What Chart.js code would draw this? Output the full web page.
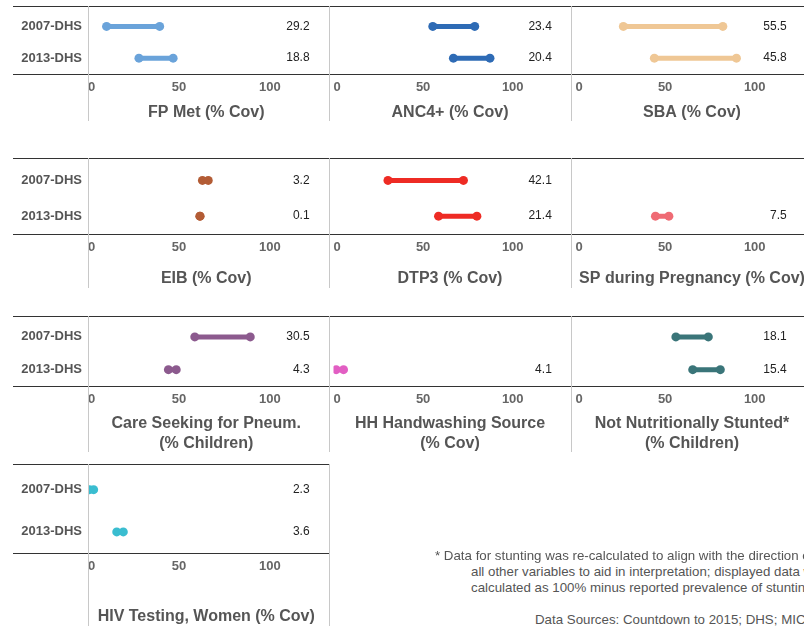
<!DOCTYPE html>
<html>
<head>
<meta charset="utf-8">
<script src="https://cdn.jsdelivr.net/npm/chart.js@4.4.0/dist/chart.umd.min.js"></script>
<style>
html, body { margin: 0; padding: 0; width: 804px; height: 626px; overflow: hidden; background: #fff; font-family: Arial, "Liberation Sans", sans-serif; }
#wrap { position: relative; width: 804px; height: 626px; overflow: hidden; }
canvas { position: absolute; }
.hr { position: absolute; height: 1px; background: #333; }
.vr { position: absolute; width: 1px; background: #c8c8c8; }
.note { position: absolute; font-size: 13.3px; color: #555; white-space: nowrap; line-height: 16px; }
</style>
</head>
<body>
<div id="wrap"></div>
<script>
// rows of every small chart
var rowLabels = ['2007-DHS', '2013-DHS'];

var panelTitles = [
	['FP Met (% Cov)'], ['ANC4+ (% Cov)'], ['SBA (% Cov)'],
	['EIB (% Cov)'], ['DTP3 (% Cov)'], ['SP during Pregnancy (% Cov)'],
	['Care Seeking for Pneum.', '(% Children)'], ['HH Handwashing Source', '(% Cov)'], ['Not Nutritionally Stunted*', '(% Children)'],
	['HIV Testing, Women (% Cov)']
];

// lowest / highest value per survey (null = no data)
var low2007  = [10.2, 55.4, 26.7, 62.9, 30.4, null, 58.7, null, 56.0, 0.8];
var high2007 = [39.4, 78.8, 82.2, 66.1, 72.5, null, 89.2, null, 74.1, 3.1];
var low2013  = [28.0, 66.9, 44.0, 61.5, 58.6, 44.6, 44.2, 1.5, 65.4, 15.8];
var high2013 = [46.8, 87.3, 89.8, 61.6, 80.0, 52.1, 48.5, 5.6, 80.8, 19.4];

// gap shown at the right of each row
var gap2007 = [29.2, 23.4, 55.5, 3.2, 42.1, null, 30.5, null, 18.1, 2.3];
var gap2013 = [18.8, 20.4, 45.8, 0.1, 21.4, 7.5, 4.3, 4.1, 15.4, 3.6];

var xTicks = [0, 50, 100, 130];
var xTickLabels = ['0', '50', '100', ''];

var colors = ['#6aa3da', '#2e6bb5', '#efc795', '#b35c35', '#ee2b24', '#ef6b74', '#8c5a8e', '#e25ec3', '#3a7579', '#3abdd0'];

// layout of the grid
var rows = [
	{ top: 6,   bottom: 74,  end: 123, sepEnd: 121 },
	{ top: 158, bottom: 234, end: 289, sepEnd: 288 },
	{ top: 316, bottom: 386, end: 454, sepEnd: 452 },
	{ top: 464, bottom: 553, end: 627, sepEnd: 626 }
];
var colLeft = [88, 329, 571, 813];
var labelRight = [121.8, 121.8, 117.8];

var wrap = document.getElementById('wrap');

function addDiv(cls, left, top, width, height) {
	var d = document.createElement('div');
	d.className = cls;
	d.style.left = left + 'px';
	d.style.top = top + 'px';
	if (width != null) d.style.width = width + 'px';
	if (height != null) d.style.height = height + 'px';
	wrap.appendChild(d);
	return d;
}

var gapLabels = {
	id: 'gapLabels',
	afterDatasetsDraw: function(chart, args, opts) {
		var ctx = chart.ctx;
		var xs = chart.scales.x, ys = chart.scales.y;
		ctx.save();
		ctx.font = '12px Arial';
		ctx.fillStyle = '#222';
		ctx.textAlign = 'right';
		ctx.textBaseline = 'middle';
		for (var i = 0; i < opts.values.length; i++) {
			if (opts.values[i] == null) continue;
			ctx.fillText(opts.values[i].toFixed(1), xs.getPixelForValue(opts.at), ys.getPixelForValue(i));
		}
		ctx.restore();
	}
};

for (var p = 0; p < panelTitles.length; p++) {
	var r = rows[Math.floor(p / 3)];
	var col = p % 3;
	var first = col === 0;
	var left = first ? 0 : colLeft[col];
	var width = colLeft[col + 1] - left;
	var height = r.end - r.top;
	var axisH = r.end - r.bottom;
	var yW = first ? 88 : 0;

	var cv = document.createElement('canvas');
	cv.width = width;
	cv.height = height;
	cv.style.left = left + 'px';
	cv.style.top = r.top + 'px';
	cv.style.width = width + 'px';
	cv.style.height = height + 'px';
	wrap.appendChild(cv);

	var lows = [low2007[p], low2013[p]];
	var highs = [high2007[p], high2013[p]];
	var datasets = [];
	for (var i = 0; i < 2; i++) {
		if (lows[i] == null) continue;
		datasets.push({
			data: [{ x: lows[i], y: rowLabels[i] }, { x: highs[i], y: rowLabels[i] }],
			borderColor: colors[p],
			backgroundColor: colors[p],
			pointBackgroundColor: colors[p],
			borderWidth: 5,
			pointRadius: 4.5,
			pointHoverRadius: 4.5,
			pointBorderWidth: 0,
			clip: 0
		});
	}

	new Chart(cv, {
		type: 'line',
		data: { labels: rowLabels, datasets: datasets },
		plugins: [gapLabels],
		options: {
			responsive: false,
			animation: false,
			layout: { padding: 0 },
			plugins: {
				legend: { display: false },
				tooltip: { enabled: false },
				gapLabels: { values: [gap2007[p], gap2013[p]], at: labelRight[col] }
			},
			scales: {
				x: {
					type: 'linear',
					min: 0,
					max: 130,
					afterBuildTicks: function(s) { s.ticks = xTicks.map(function(v) { return { value: v }; }); },
					afterFit: (function(h) { return function(s) { s.height = h; s.paddingLeft = 0; s.paddingRight = 0; }; })(axisH),
					grid: { display: false, drawTicks: false },
					border: { display: false },
					ticks: {
						align: 'inner',
						padding: 6,
						color: '#666',
						font: { family: 'Arial', size: 13, weight: 'bold' },
						callback: function(v, idx) { return xTickLabels[idx]; }
					},
					title: {
						display: true,
						text: panelTitles[p],
						color: '#555',
						font: { family: 'Arial', size: 16, weight: 'bold', lineHeight: '20px' },
						padding: { top: 0, bottom: 0 }
					}
				},
				y: {
					type: 'category',
					labels: rowLabels,
					offset: true,
					display: first,
					afterFit: (function(w) { return function(s) { s.width = w; s.paddingTop = 0; s.paddingBottom = 0; }; })(yW),
					grid: { display: false, drawTicks: false },
					border: { display: false },
					ticks: {
						padding: 6,
						color: '#555',
						font: { family: 'Arial', size: 13, weight: 'bold' }
					}
				}
			}
		}
	});
}

// frame lines of the grid
for (var k = 0; k < rows.length; k++) {
	var rr = rows[k];
	var right = k === 3 ? 329 : 804;
	addDiv('hr', 13, rr.top, right - 13, 1);
	addDiv('hr', 13, rr.bottom, right - 13, 1);
	var nCols = k === 3 ? 2 : 3;
	for (var c = 0; c < nCols; c++) {
		addDiv('vr', colLeft[c], rr.top, 1, rr.sepEnd - rr.top);
	}
}

var notes = [
	{ x: 435, y: 548, t: '* Data for stunting was re-calculated to align with the direction of' },
	{ x: 471, y: 564, t: 'all other variables to aid in interpretation; displayed data was' },
	{ x: 471, y: 580, t: 'calculated as 100% minus reported prevalence of stunting' },
	{ x: 535, y: 612, t: 'Data Sources: Countdown to 2015; DHS; MICS' }
];
notes.forEach(function(n) {
	var d = addDiv('note', n.x, n.y);
	d.textContent = n.t;
});
</script>
</body>
</html>
